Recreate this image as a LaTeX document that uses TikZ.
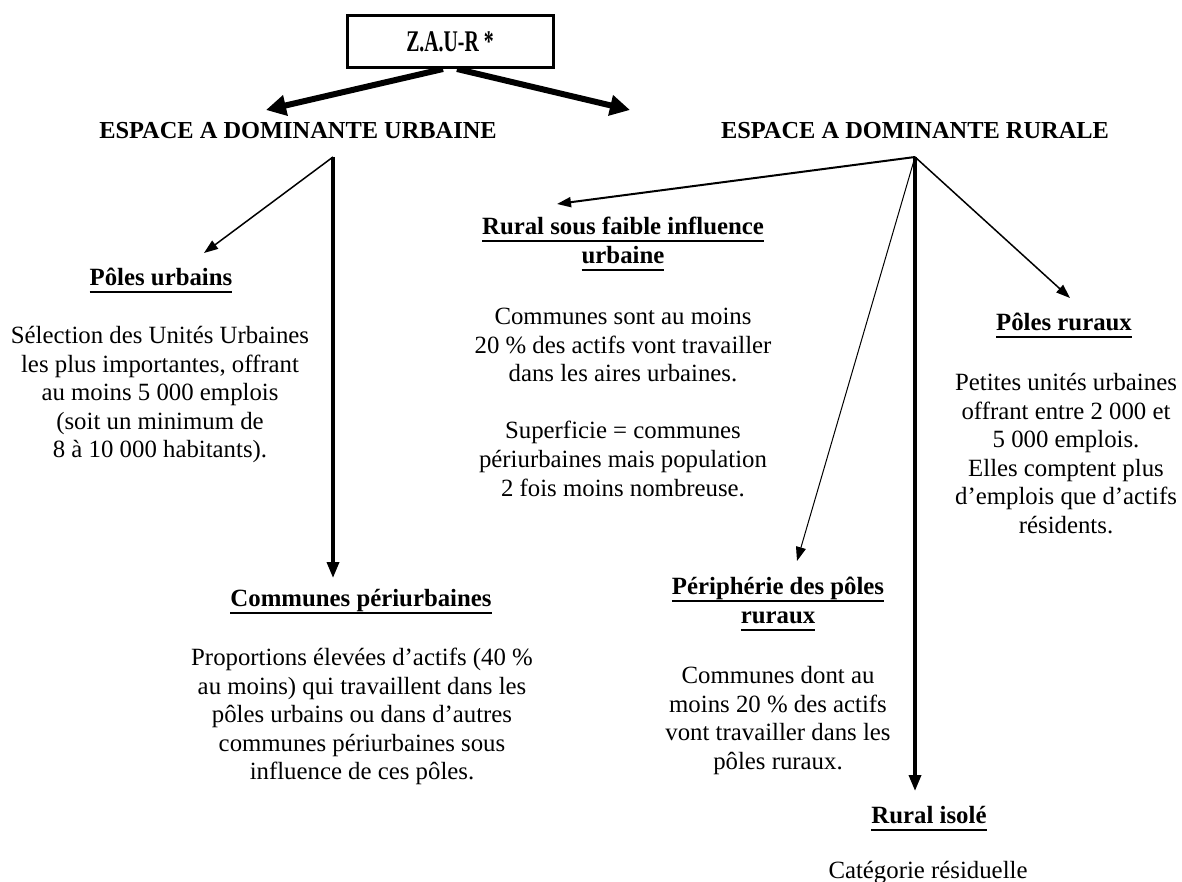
\documentclass[tikz,border=0pt]{standalone}
\usepackage{graphicx}
\usepackage{fontspec}
\setmainfont{Liberation Serif}
\usetikzlibrary{arrows.meta}
\newcommand{\uln}[1]{\leavevmode\vtop{\hbox{\vphantom{p}#1}\kern0.2pt\hrule height 0.9pt}}
\begin{document}
\begin{tikzpicture}[x=0.5pt,y=-0.5pt,
  every node/.style={inner sep=0pt},
  body/.style={align=center, anchor=north, font=\fontsize{12.4}{14.3}\selectfont},
  head/.style={align=center, anchor=north, font=\bfseries\fontsize{12.4}{14.3}\selectfont},
  ttl/.style={anchor=north, font=\bfseries\fontsize{12.2}{14.3}\selectfont},
  big/.style={line width=3pt, -{Triangle[length=10pt,width=10pt]}},
  vert/.style={line width=1.75pt, -{Triangle[length=8pt,width=6pt]}},
  mid/.style={line width=1pt, -{Triangle[length=7pt,width=5pt]}},
  thin/.style={line width=0.75pt, -{Triangle[length=7pt,width=5pt]}},
  hair/.style={line width=0.5pt, -{Triangle[length=7pt,width=5pt]}}
]
\useasboundingbox (0,0) rectangle (1182,882);

% top box
\node[draw, line width=1.5pt, minimum width=103pt, minimum height=26pt,
      font=\bfseries\fontsize{15}{17}\selectfont] (zaur) at (450,42) {\scalebox{0.66}[1]{Z.A.U-R *}};

% titles
\node[ttl] (tU) at (298,118) {\strut ESPACE A DOMINANTE URBAINE};
\node[ttl] (tR) at (915,118) {\strut ESPACE A DOMINANTE RURALE};

\coordinate (sL) at (443,69);
\coordinate (sR) at (457,69);
\coordinate (eL) at (266,110);
\coordinate (eR) at (630,110);
\draw[big] (sL) -- (eL);
\draw[big] (sR) -- (eR);

% branch points
\coordinate (bU) at (333,157);
\coordinate (bR) at (915,157);

% urban side
\coordinate (aPU) at (204,253);
\draw[thin] (bU) -- (aPU);
\node[head] (hPU) at (161,265) {\strut\uln{Pôles urbains}};
\node[body] (tPU) at (160,323) {\strut Sélection des Unités Urbaines\\les plus importantes, offrant\\au moins 5 000 emplois\\(soit un minimum de\\8 à 10 000 habitants).};

\coordinate (aCP) at (333,578);
\draw[vert] (bU) -- (aCP);
\node[head] (hCP) at (361,586) {\strut\uln{Communes périurbaines}};
\node[body] (tCP) at (362,645) {\strut Proportions élevées d’actifs (40 \%\\au moins) qui travaillent dans les\\pôles urbains ou dans d’autres\\communes périurbaines sous\\influence de ces pôles.};

% rural side
\coordinate (aRSF) at (557,204);
\draw[mid] (bR) -- (aRSF);
\node[head] (hRSF) at (623,214) {\strut\uln{Rural sous faible influence}\\\uln{urbaine}};
\node[body] (tRSF) at (623,304) {\strut Communes sont au moins\\20 \% des actifs vont travailler\\dans les aires urbaines.\\[14.3pt]Superficie = communes\\périurbaines mais population\\2 fois moins nombreuse.};

\coordinate (aPPR) at (797,561);
\draw[hair] (bR) -- (aPPR);
\node[head] (hPPR) at (778,574) {\strut\uln{Périphérie des pôles}\\\uln{ruraux}};
\node[body] (tPPR) at (778,663) {\strut Communes dont au\\moins 20 \% des actifs\\vont travailler dans les\\pôles ruraux.};

\coordinate (aRI) at (915,791);
\draw[vert] (bR) -- (aRI);
\node[head] (hRI) at (929,803) {\strut\uln{Rural isolé}};
\node[body] (tRI) at (928,858) {\strut Catégorie résiduelle};

\coordinate (aPR) at (1070,298);
\draw[thin] (bR) -- (aPR);
\node[head] (hPR) at (1064,310) {\strut\uln{Pôles ruraux}};
\node[body] (tPR) at (1066,370) {\strut Petites unités urbaines\\offrant entre 2 000 et\\5 000 emplois.\\Elles comptent plus\\d’emplois que d’actifs\\résidents.};

\end{tikzpicture}
\end{document}
